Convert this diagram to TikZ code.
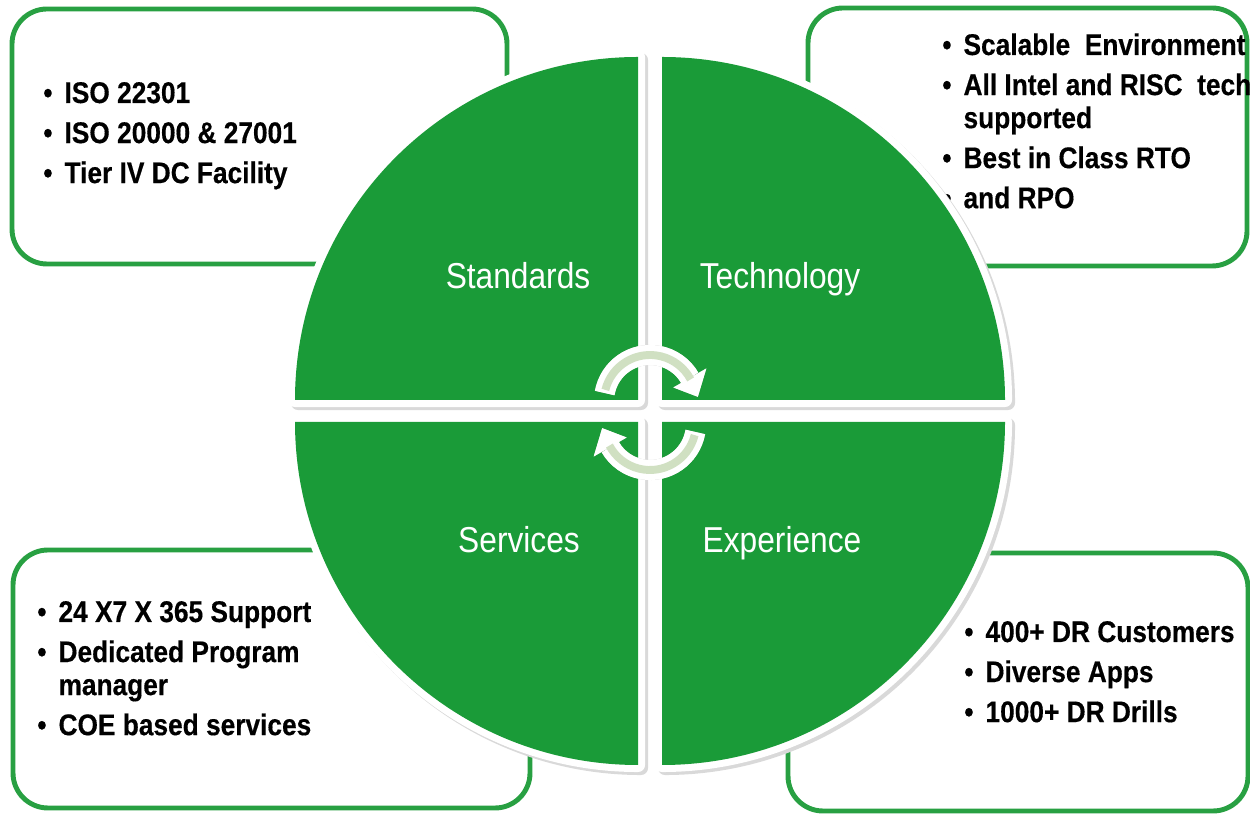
\documentclass[tikz,border=0pt]{standalone}
\usepackage{fontspec}
\setmainfont{Liberation Sans}[FakeStretch=0.88,BoldFeatures={FakeBold=0.4}]
\newfontfamily\quadfont{Liberation Sans}[FakeStretch=0.88]
\definecolor{quadgreen}{RGB}{26,155,56}
\definecolor{boxgreen}{RGB}{40,160,66}
\definecolor{arrowsage}{RGB}{208,224,194}
\tikzset{
  infobox/.style={draw=boxgreen,line width=2.8pt,rounded corners=0.7cm},
  itemlist/.style={anchor=base west,inner sep=0pt,font=\fontsize{17}{22.8}\selectfont\bfseries},
  quadlabel/.style={anchor=base,inner sep=0pt,text=white,font=\quadfont\fontsize{20.5}{24}\selectfont}
}
\begin{document}
\begin{tikzpicture}[x=0.02cm,y=0.02cm]
\pgfmathsetmacro{\rq}{343}
\pgfmathsetmacro{\ra}{46}
\useasboundingbox (0,0) rectangle (1250,814);
\draw[infobox](12,805) rectangle (507,550);
\draw[infobox](808,806) rectangle (1247,548);
\draw[infobox](13,264) rectangle (530,6);
\draw[infobox](788,261) rectangle (1248,3);
\node[itemlist](stdlist) at (43,711){\begin{tabular}[t]{@{}l@{\hspace{0.24cm}}l@{}}
\textbullet & ISO 22301\\
\textbullet & ISO 20000 \& 27001\\
\textbullet & Tier IV DC Facility
\end{tabular}};
\node[itemlist](techlist) at (942,759){\begin{tabular}[t]{@{}l@{\hspace{0.24cm}}l@{}}
\textbullet & Scalable\ \ Environment\\
\textbullet & All Intel and RISC\ \ tech\\[-4pt]
 & supported\\
\textbullet & Best in Class RTO\\
\textbullet & and RPO
\end{tabular}};
\node[itemlist](servlist) at (37,192){\begin{tabular}[t]{@{}l@{\hspace{0.24cm}}l@{}}
\textbullet & 24 X7 X 365 Support\\
\textbullet & Dedicated Program\\[-4pt]
 & manager\\
\textbullet & COE based services
\end{tabular}};
\node[itemlist](explist) at (964,172){\begin{tabular}[t]{@{}l@{\hspace{0.24cm}}l@{}}
\textbullet & 400+ DR Customers\\
\textbullet & Diverse Apps\\
\textbullet & 1000+ DR Drills
\end{tabular}};
\foreach \cx/\cy/\a in {638/414/90,662/414/0,638/392/180,662/392/270}
  \filldraw[gray!30,line width=8pt,line join=round,shift={(3,-3)}](\cx,\cy)--++(\a:\rq) arc[start angle=\a,delta angle=90,radius=\rq]--cycle;
\foreach \cx/\cy/\a in {638/414/90,662/414/0,638/392/180,662/392/270}{
  \filldraw[white,line width=8pt,line join=round](\cx,\cy)--++(\a:\rq) arc[start angle=\a,delta angle=90,radius=\rq]--cycle;
  \fill[quadgreen](\cx,\cy)--++(\a:\rq) arc[start angle=\a,delta angle=90,radius=\rq]--cycle;
}
\node[quadlabel](standards) at (518,525){Standards};
\node[quadlabel](technology) at (780,525){Technology};
\node[quadlabel](services) at (519,261){Services};
\node[quadlabel](experience) at (782,261){Experience};
\coordinate (topc) at (650,413);
\coordinate (botc) at (650,390);
\foreach \c/\a in {topc/0,botc/180}{
  \begin{scope}[shift={(2,-3)},gray!35]
  \draw[line width=11.4pt]([shift={(170+\a:\ra)}]\c) arc[start angle=170+\a,end angle=30+\a,radius=\ra];
  \fill([shift={(30+\a:{\ra-19})}]\c)--([shift={(30+\a:{\ra+19})}]\c)--([shift={(5+\a:{\ra+2})}]\c)--cycle;
  \end{scope}
  \draw[white,line width=11.4pt]([shift={(170+\a:\ra)}]\c) arc[start angle=170+\a,end angle=30+\a,radius=\ra];
  \fill[white]([shift={(30+\a:{\ra-19})}]\c)--([shift={(30+\a:{\ra+19})}]\c)--([shift={(5+\a:{\ra+2})}]\c)--cycle;
  \draw[arrowsage,line width=4.5pt]([shift={(166+\a:\ra)}]\c) arc[start angle=166+\a,end angle=28+\a,radius=\ra];
}
\end{tikzpicture}
\end{document}
